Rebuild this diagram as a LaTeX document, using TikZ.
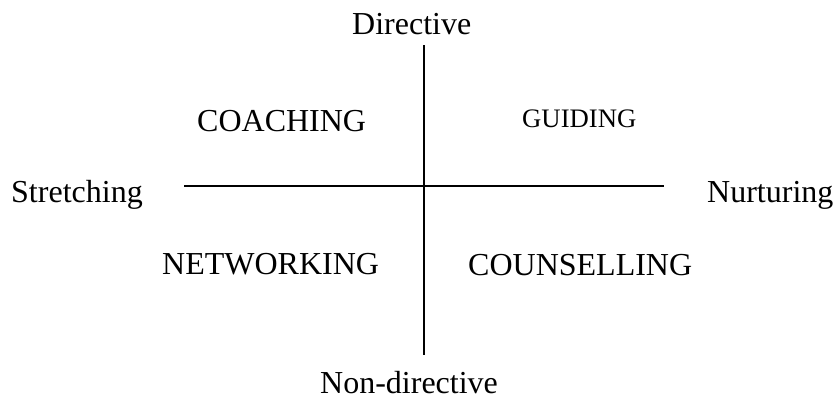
\documentclass[tikz,border=0pt]{standalone}
\usepackage{fontspec}
\setmainfont{Liberation Serif}
\begin{document}
\begin{tikzpicture}[x=1pt,y=-1pt,
  lbl/.style={anchor=base west,inner sep=0pt,font=\fontsize{32}{38}\selectfont},
  small/.style={anchor=base west,inner sep=0pt,font=\fontsize{26.7}{32}\selectfont},
  axis/.style={line width=1.6pt}]
\useasboundingbox (0,0) rectangle (835,399);
\coordinate (top) at (424,45);
\coordinate (bot) at (424,355);
\coordinate (lft) at (184,186);
\coordinate (rgt) at (664,186);
\draw[axis] (top) -- (bot);
\draw[axis] (lft) -- (rgt);
\node[lbl] (dir) at (352,34) {Directive};
\node[lbl] (nondir) at (320,393) {Non-directive};
\node[lbl] (str) at (11,202) {Stretching};
\node[lbl] (nur) at (707,202) {Nurturing};
\node[lbl] (coach) at (197,131) {COACHING};
\node[small] (guid) at (522,127) {GUIDING};
\node[lbl] (net) at (162,274) {NETWORKING};
\node[lbl] (couns) at (468,275) {COUNSELLING};
\end{tikzpicture}
\end{document}
